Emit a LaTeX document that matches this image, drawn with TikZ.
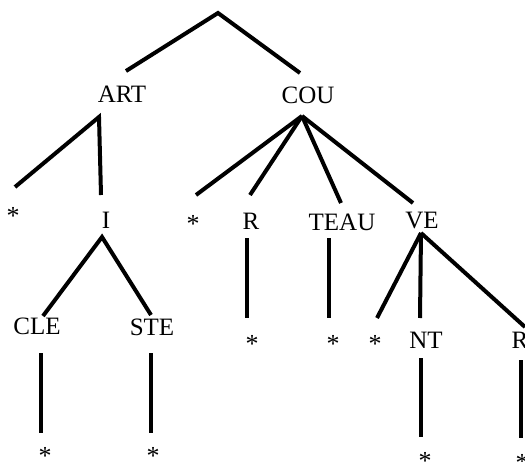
\documentclass[tikz,border=0pt]{standalone}
\usepackage{fontspec}
\setmainfont{Liberation Serif}
\begin{document}
\begin{tikzpicture}[x=1pt,y=-1pt,
  lbl/.style={inner sep=0pt,font=\fontsize{25}{30}\selectfont},
  ast/.style={inner sep=0pt,font=\fontsize{26}{30}\selectfont},
  edge/.style={line width=4pt,line cap=butt}]
\path[use as bounding box] (0,0) rectangle (525,461);
\clip (0,0) rectangle (525,461);
% labels
\node[lbl] (ART) at (122,94) {ART};
\node[lbl] (COU) at (308,95) {COU};
\node[ast] (s1) at (13,216) {*};
\node[lbl] (I) at (106,220) {I};
\node[ast] (s2) at (193,224) {*};
\node[lbl] (R1) at (251,221) {R};
\node[lbl] (TEAU) at (342,222) {TEAU};
\node[lbl] (VE) at (422,221) {VE};
\node[lbl] (CLE) at (37,326) {CLE};
\node[lbl] (STE) at (152,327) {STE};
\node[ast] (s3) at (252,344) {*};
\node[ast] (s4) at (333,344) {*};
\node[ast] (s5) at (375,344) {*};
\node[lbl] (NT) at (426,340) {NT};
\node[lbl] (R2) at (520,340) {R};
\node[ast] (s6) at (45,456) {*};
\node[ast] (s7) at (153,456) {*};
\node[ast] (s8) at (425,461) {*};
\node[ast] (s9) at (522,463) {*};
% connector end points
\coordinate (root) at (218,13);
\coordinate (ART-t) at (126,71);
\coordinate (COU-t) at (300,73);
\coordinate (ART-b) at (99,117);
\coordinate (s1-t) at (15,187);
\coordinate (I-t) at (101,195);
\coordinate (COU-b) at (302,116);
\coordinate (s2-t) at (196,195);
\coordinate (R1-t) at (250,195);
\coordinate (TEAU-t) at (341,203);
\coordinate (VE-t) at (413,203);
\coordinate (I-b) at (102,237);
\coordinate (CLE-t) at (43,316);
\coordinate (STE-t) at (151,315);
\coordinate (CLE-b) at (41,353);
\coordinate (s6-t) at (41,433);
\coordinate (STE-b) at (151,353);
\coordinate (s7-t) at (151,433);
\coordinate (R1-b) at (247,238);
\coordinate (s3-t) at (247,318);
\coordinate (TEAU-b) at (329,238);
\coordinate (s4-t) at (329,318);
\coordinate (VE-b) at (421,233);
\coordinate (s5-t) at (377,318);
\coordinate (NT-t) at (420,318);
\coordinate (R2-t) at (525,327);
\coordinate (NT-b) at (421,358);
\coordinate (s8-t) at (421,437);
\coordinate (R2-b) at (521,360);
\coordinate (s9-t) at (521,438);
% connectors
\draw[edge] (ART-t) -- (root) -- (COU-t);
\draw[edge] (s1-t) -- (ART-b) -- (I-t);
\draw[edge] (COU-b) -- (s2-t);
\draw[edge] (COU-b) -- (R1-t);
\draw[edge] (COU-b) -- (TEAU-t);
\draw[edge] (COU-b) -- (VE-t);
\draw[edge] (CLE-t) -- (I-b) -- (STE-t);
\draw[edge] (CLE-b) -- (s6-t);
\draw[edge] (STE-b) -- (s7-t);
\draw[edge] (R1-b) -- (s3-t);
\draw[edge] (TEAU-b) -- (s4-t);
\draw[edge] (VE-b) -- (s5-t);
\draw[edge] (VE-b) -- (NT-t);
\draw[edge] (VE-b) -- (R2-t);
\draw[edge] (NT-b) -- (s8-t);
\draw[edge] (R2-b) -- (s9-t);
\end{tikzpicture}
\end{document}
